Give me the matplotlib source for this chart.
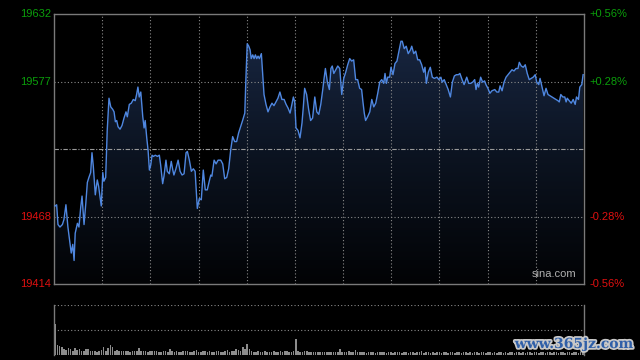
import matplotlib
matplotlib.use('Agg')
import matplotlib.pyplot as plt
import matplotlib.patheffects as pe
import numpy as np
from matplotlib.colors import LinearSegmentedColormap

# ==========================================
# DATA (intraday index, minutes from open)
# ==========================================
prev_close = 19523
y_low, y_high = 19414, 19632
left_ticks = [19632, 19577, 19468, 19414]
right_ticks = ['+0.56%', '+0.28%', '-0.28%', '-0.56%']

minutes = [
    0.5, 1.2, 1.8, 2.7, 3.8, 4.5, 5.4, 6.3, 7.2, 7.8, 8.5, 9.1, 9.6, 10.6, 11.3, 12.1, 12.7, 13.6, 14.4, 15.1,
    15.8, 16.6, 17.2, 17.8, 18.7, 19.6, 20.2, 20.8, 21.4, 22.1, 22.6, 23.4, 24.1, 24.9, 25.7, 26.6, 27.2, 27.8,
    28.4, 29.0, 29.9, 30.8, 31.7, 32.6, 33.2, 34.1, 35.0, 35.9, 36.8, 37.4, 38.0, 38.6, 39.3, 40.2, 40.8, 41.3,
    42.0, 42.6, 43.2, 43.8, 44.4, 45.0, 45.9, 46.8, 47.7, 48.3, 49.2, 49.8, 50.7, 51.3, 52.2, 53.1, 53.8, 54.3,
    55.2, 56.2, 57.1, 58.0, 58.9, 59.8, 60.4, 61.3, 62.2, 63.1,
    63.9, 64.6, 64.9, 65.8, 66.7, 67.6, 68.5, 69.4, 70.3, 71.0, 71.5, 72.5, 73.4, 74.3, 75.5, 76.4, 77.3, 78.2,
    79.1, 80.0, 80.9, 81.8, 82.7, 83.6, 84.5, 85.4, 86.4, 86.9, 87.5, 88.2, 88.8, 89.3, 90.0, 90.6, 91.2, 91.8,
    92.4, 93.0, 93.9, 94.5, 95.1, 96.0, 96.9, 97.8, 98.7, 99.6, 100.5, 101.4, 102.3, 103.2, 104.2, 105.1, 106.0,
    106.9, 107.5, 108.4, 109.0, 109.6, 110.5, 111.4, 112.3, 112.9, 113.5, 114.4, 115.3, 116.2, 117.1, 118.1,
    119.0, 119.9, 120.8, 121.7, 122.3, 122.9, 123.8, 124.7,
    125.4, 126.0, 126.7, 127.6, 128.5, 129.4, 130.3, 131.2, 132.1, 133.0, 133.9, 134.8, 135.7, 136.6, 137.5,
    138.4, 139.3, 139.9, 140.5, 141.1, 142.0, 143.0, 143.9, 144.8, 145.7, 146.6, 147.5, 148.4, 149.3, 149.9,
    150.5, 151.1, 152.0, 152.6, 153.5, 154.4, 155.3, 156.2, 157.1, 157.7, 158.6, 159.5, 160.4, 161.4, 162.0,
    162.9, 163.8, 164.7, 165.6, 166.5, 167.4, 168.0, 168.6, 169.5, 170.4, 171.3, 172.2, 173.4, 174.3, 175.2,
    175.8, 176.7, 177.6, 178.5, 179.5, 180.4, 181.3, 182.2, 183.1,
    183.8, 184.8, 185.7, 186.9, 187.8, 188.7, 189.6, 190.5, 191.1, 191.7, 192.3, 193.2, 194.1, 195.0, 195.6,
    196.5, 197.4, 198.3, 199.6, 200.5, 201.4, 202.0, 202.9, 203.8, 204.7, 205.6, 206.5, 207.4, 208.3, 209.2,
    210.1, 210.7, 211.6, 212.5, 213.4, 214.3, 215.2, 216.1, 217.0, 217.9, 218.6, 219.5, 220.1, 221.0, 221.9,
    222.8, 223.7, 224.6, 225.5, 226.4, 227.3, 228.2, 228.8, 229.5, 230.4, 231.3, 231.9, 232.4, 233.3, 234.2,
    235.1, 236.0, 236.6, 237.5, 238.1, 239.0, 239.6,
]
prices = [
    19477, 19478, 19462, 19460, 19462, 19466, 19478, 19460, 19447, 19439, 19446, 19433, 19455, 19463, 19460, 19476, 19485, 19462, 19479, 19496,
    19500, 19504, 19520, 19509, 19486, 19498, 19493, 19485, 19477, 19504, 19497, 19500, 19538, 19564, 19557, 19555, 19553, 19545,
    19546, 19541, 19539, 19542, 19548, 19553, 19549, 19559, 19560, 19563, 19562, 19567, 19573, 19565, 19569, 19549, 19540, 19546,
    19532, 19522, 19506, 19510, 19518, 19517, 19518, 19517, 19518, 19510, 19495, 19501, 19514, 19505, 19503, 19513, 19506, 19502,
    19507, 19514, 19505, 19502, 19503, 19520, 19521, 19514, 19505, 19507,
    19505, 19483, 19475, 19483, 19482, 19506, 19490, 19490, 19497, 19502, 19501, 19514, 19511, 19514, 19514, 19511, 19499, 19500,
    19507, 19522, 19533, 19529, 19529, 19536, 19541, 19546, 19552, 19580, 19608, 19606, 19603, 19596, 19599, 19596, 19599, 19596,
    19598, 19596, 19600, 19583, 19567, 19559, 19553, 19557, 19560, 19558, 19561, 19564, 19569, 19563, 19563, 19559, 19556,
    19552, 19557, 19565, 19561, 19540, 19538, 19532, 19544, 19557, 19572, 19567, 19555, 19546, 19548, 19565,
    19553, 19551, 19559, 19571, 19580, 19588, 19577, 19571,
    19588, 19590, 19584, 19587, 19590, 19588, 19567, 19580, 19585, 19591, 19596, 19594, 19595, 19579, 19579,
    19572, 19571, 19561, 19552, 19546, 19549, 19553, 19563, 19557, 19560, 19568, 19577, 19579, 19576, 19584,
    19576, 19581, 19581, 19589, 19583, 19592, 19594, 19602, 19610, 19610, 19604, 19606, 19600, 19603, 19606,
    19600, 19602, 19595, 19595, 19591, 19585, 19589, 19576, 19585, 19589, 19581, 19580, 19581, 19579, 19581,
    19577, 19579, 19575, 19571, 19565, 19577, 19582, 19583, 19583,
    19584, 19579, 19575, 19581, 19576, 19576, 19577, 19579, 19571, 19576, 19573, 19581, 19577, 19578, 19575,
    19572, 19568, 19570, 19571, 19569, 19569, 19574, 19570, 19577, 19581, 19583, 19585, 19587, 19586, 19588,
    19588, 19593, 19590, 19589, 19591, 19584, 19579, 19580, 19581, 19583, 19577, 19575, 19580, 19573, 19566,
    19572, 19567, 19566, 19565, 19564, 19563, 19562, 19561, 19567, 19565, 19565, 19561, 19564, 19562, 19560,
    19563, 19559, 19565, 19563, 19573, 19575, 19583,
]

# volume per minute (arbitrary units)
volumes = [
    310, 100, 90, 80, 57, 50, 67, 60, 40, 67, 47, 57, 40, 40, 57, 57, 40, 45, 40, 35,
    45, 50, 80, 45, 67, 97, 80, 45, 50, 40, 42, 38, 40, 45, 35, 40, 42, 38, 67, 45,
    40, 38, 35, 40, 45, 38, 42, 35, 30, 38, 40, 35, 57, 38, 30, 42, 35, 30, 40, 45,
    38, 30, 35, 40, 47, 35, 30, 38, 45, 35, 40, 30, 35, 42, 38, 30, 35, 40, 48, 35,
    40, 45, 57, 50, 38, 80, 62, 113, 60, 40, 35, 30, 38, 35, 30, 40, 35, 30, 33, 38,
    30, 35, 42, 30, 38, 40, 35, 30, 40, 157, 45, 35, 30, 38, 40, 30, 35, 28, 30, 35,
    30, 28, 35, 30, 32, 28, 30, 35, 30, 57, 30, 28, 35, 38, 30, 32, 50, 35, 30, 28,
    30, 25, 28, 32, 30, 25, 28, 30, 32, 28, 25, 30, 28, 25, 30, 32, 28, 25, 30, 28,
    25, 28, 30, 25, 28, 30, 38, 25, 28, 30, 25, 28, 25, 30, 28, 25, 30, 28, 25, 28,
    30, 25, 28, 30, 25, 28, 35, 25, 28, 25, 30, 28, 25, 28, 30, 25, 28, 30, 25, 28,
    25, 28, 30, 25, 28, 25, 30, 28, 25, 28, 30, 25, 28, 25, 30, 28, 25, 28, 30, 25,
    28, 30, 25, 28, 30, 25, 28, 30, 25, 28, 32, 25, 28, 30, 25, 28, 30, 25, 28, 30,
]

# ==========================================
# PLOT
# ==========================================
plt.rcParams['font.family'] = ['Liberation Sans', 'DejaVu Sans']
green = '#0b9e0b'
red = '#e01010'
grid_col = '#8a8a8a'
spine_col = '#7a7a7a'
dotted = (0, (1, 2))

fig = plt.figure(figsize=(6.4, 3.6), dpi=100, facecolor='black')
ax = fig.add_axes([54 / 640, 1 - 284 / 360, 530 / 640, 270 / 360])
axv = fig.add_axes([54 / 640, 1 - 355 / 360, 530 / 640, 50 / 360])

x_max = 240
ax.set_facecolor('black')
ax.set_xlim(0, x_max)
ax.set_ylim(y_low, y_high)

# gradient area under the line
cmap = LinearSegmentedColormap.from_list('fill', ['#020305', '#0c1422', '#1a2946'])
grad = np.linspace(0, 1, 256).reshape(-1, 1)
poly = ax.fill_between(minutes, prices, y_low, facecolor='none', edgecolor='none')
im = ax.imshow(grad, extent=[0, x_max, y_low, y_high], origin='lower', aspect='auto',
               cmap=cmap, zorder=1)
im.set_clip_path(poly.get_paths()[0], transform=ax.transData)

# grid
for k in range(1, 11):
    ax.axvline(x_max * k / 11, color=grid_col, lw=0.8, ls=dotted, zorder=2)
for v in [19577, 19468]:
    ax.axhline(v, color=grid_col, lw=0.8, ls=dotted, zorder=2)
ax.axhline(prev_close, color='#9a9a9a', lw=0.8, ls=(0, (4, 1.5, 1, 1.5)), zorder=2)

ax.plot(minutes, prices, color='#4f87e0', lw=1.0, zorder=3)

ax.set_xticks([])
ax.set_yticks([])
for s in ax.spines.values():
    s.set_color(spine_col)
    s.set_linewidth(1.0)

# axis labels
for v, lab, c in zip(left_ticks, right_ticks, [green, green, red, red]):
    ax.text(-0.006, (v - y_low) / (y_high - y_low), str(v), transform=ax.transAxes,
            ha='right', va='center', color=c, fontsize=8)
    ax.text(1.011, (v - y_low) / (y_high - y_low), lab, transform=ax.transAxes,
            ha='left', va='center', color=c, fontsize=8)

ax.text(0.985, 0.018, 'sina.com', transform=ax.transAxes, ha='right', va='bottom',
        color='#b0b0b0', fontsize=8)

# volume panel
axv.set_facecolor('black')
axv.bar(np.arange(len(volumes)) + 0.5, volumes, width=0.7, color='#8c8c8c', zorder=2)
axv.set_xlim(0, x_max)
axv.set_ylim(0, 500)
for v in [500, 250, 0]:
    axv.axhline(v, color=grid_col, lw=0.8, ls=dotted, zorder=1)
axv.set_xticks([])
axv.set_yticks([])
for side in ['top', 'bottom']:
    axv.spines[side].set_visible(False)
for side in ['left', 'right']:
    axv.spines[side].set_color(spine_col)
    axv.spines[side].set_linewidth(1.0)

# watermark
fig.text(574 / 640, 1 - 344 / 360, 'www.365jz.com', ha='center', va='center',
         color='#2f5fa8', fontsize=10, fontweight='bold', family='DejaVu Serif',
         path_effects=[pe.withStroke(linewidth=2.5, foreground='#c8c8c8')])

fig.savefig('out.png', dpi=100, facecolor='black')
